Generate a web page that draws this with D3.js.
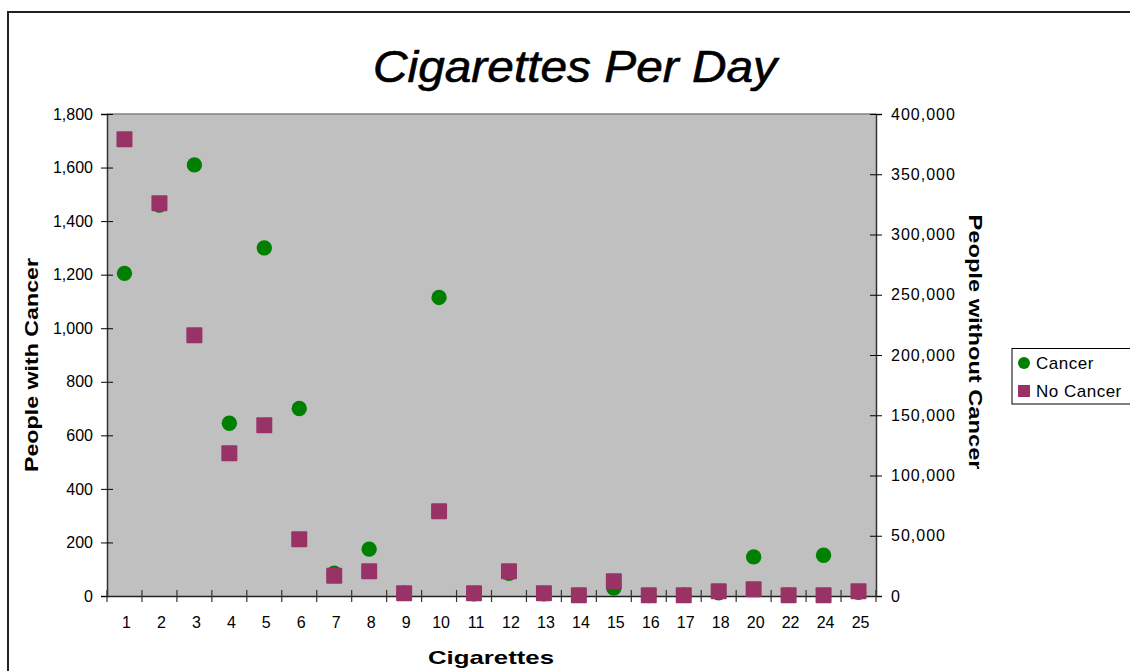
<!DOCTYPE html>
<html>
<head>
<meta charset="utf-8">
<script src="https://cdn.jsdelivr.net/npm/d3@7"></script>
<style>
  html, body { margin: 0; padding: 0; background: #fff; }
  svg { display: block; font-family: "Liberation Sans", Arial, sans-serif; }
</style>
</head>
<body>
<svg id="chart" width="1130" height="671"></svg>
<script>
// Cigarettes smoked per day (category labels along the x axis)
const categories = ["1","2","3","4","5","6","7","8","9","10","11","12","13","14","15","16","17","18","20","22","24","25"];
// People with cancer, left axis
const cancer = [1205, 1460, 1610, 645, 1300, 700, 85, 175, 10, 1115, 8, 85, 8, 3, 30, 2, 3, 12, 146, 3, 152, 14];
// People without cancer, right axis
const noCancer = [379000, 326000, 216300, 118400, 141700, 47000, 16900, 20500, 2200, 70300, 2200, 20500, 2200, 600, 12200, 600, 600, 3900, 5600, 600, 600, 3900];
// Axis ticks
const leftTicks = [0, 200, 400, 600, 800, 1000, 1200, 1400, 1600, 1800];
const rightTicks = [0, 50000, 100000, 150000, 200000, 250000, 300000, 350000, 400000];
const seriesNames = ["Cancer", "No Cancer"];

const svg = d3.select("#chart");
const plot = { left: 107, right: 876, top: 114, bottom: 596 };

// Outer chart frame
svg.append("rect")
  .attr("x", 8).attr("y", 12)
  .attr("width", 1140).attr("height", 680)
  .attr("fill", "#fff").attr("stroke", "#222").attr("stroke-width", 2);

const x = d3.scaleBand().domain(categories).range([plot.left, plot.right]).padding(0);
const yL = d3.scaleLinear().domain([0, 1800]).range([plot.bottom, plot.top]);
const yR = d3.scaleLinear().domain([0, 400000]).range([plot.bottom, plot.top]);

// Plot background
svg.append("rect")
  .attr("x", plot.left).attr("y", plot.top)
  .attr("width", plot.right - plot.left).attr("height", plot.bottom - plot.top)
  .attr("fill", "#c0c0c0");
svg.append("line")
  .attr("x1", plot.left).attr("x2", plot.right)
  .attr("y1", plot.top).attr("y2", plot.top)
  .attr("stroke", "#808080").attr("stroke-width", 1.5);

// Title
svg.append("text")
  .attr("x", 575).attr("y", 82)
  .attr("text-anchor", "middle")
  .attr("font-size", 44).attr("font-style", "italic")
  .attr("stroke", "#000").attr("stroke-width", 0.6)
  .attr("textLength", 404).attr("lengthAdjust", "spacingAndGlyphs")
  .text("Cigarettes Per Day");

const fmt = d3.format(",");

// Left axis
const gL = svg.append("g").attr("transform", `translate(${plot.left},0)`)
  .call(d3.axisLeft(yL).tickValues(leftTicks).tickFormat(fmt).tickSizeOuter(0).tickSize(6).tickPadding(8));
gL.select(".domain").attr("stroke", "#333").attr("stroke-width", 1.5);
gL.selectAll(".tick line").attr("x1", -6).attr("x2", 6).attr("stroke", "#000");
gL.selectAll(".tick text").attr("font-size", 16).attr("fill", "#000")
  .attr("font-family", "Liberation Sans, Arial, sans-serif");

// Right axis
const gR = svg.append("g").attr("transform", `translate(${plot.right},0)`)
  .call(d3.axisRight(yR).tickValues(rightTicks).tickFormat(fmt).tickSizeOuter(0).tickSize(6).tickPadding(9));
gR.select(".domain").attr("stroke", "#333").attr("stroke-width", 1.5);
gR.selectAll(".tick line").attr("x1", -6).attr("x2", 6).attr("stroke", "#000");
gR.selectAll(".tick text").attr("font-size", 16).attr("fill", "#000")
  .attr("letter-spacing", 1)
  .attr("font-family", "Liberation Sans, Arial, sans-serif");

// Bottom axis: labels centred in each band, ticks on band edges
const gB = svg.append("g").attr("transform", `translate(0,${plot.bottom})`)
  .call(d3.axisBottom(x).tickSize(0).tickPadding(21).tickSizeOuter(0));
gB.select(".domain").attr("stroke", "#222").attr("stroke-width", 1.5);
gB.selectAll(".tick text").attr("font-size", 16).attr("fill", "#000")
  .attr("transform", "translate(2,0)")
  .attr("font-family", "Liberation Sans, Arial, sans-serif");
const edges = categories.map(c => x(c)).concat([x(categories[categories.length - 1]) + x.bandwidth()]);
svg.append("g").selectAll("line").data(edges).join("line")
  .attr("x1", d => d).attr("x2", d => d)
  .attr("y1", plot.bottom - 6).attr("y2", plot.bottom + 6)
  .attr("stroke", "#333").attr("stroke-width", 1.2);

// Axis titles
svg.append("text")
  .attr("transform", `translate(38,365) rotate(-90)`)
  .attr("text-anchor", "middle").attr("font-size", 18).attr("font-weight", "bold")
  .attr("textLength", 214).attr("lengthAdjust", "spacingAndGlyphs")
  .text("People with Cancer");
svg.append("text")
  .attr("transform", `translate(969,342) rotate(90)`)
  .attr("text-anchor", "middle").attr("font-size", 18).attr("font-weight", "bold")
  .attr("textLength", 255).attr("lengthAdjust", "spacingAndGlyphs")
  .text("People without Cancer");
svg.append("text")
  .attr("x", 491).attr("y", 664)
  .attr("text-anchor", "middle").attr("font-size", 19).attr("font-weight", "bold")
  .attr("textLength", 126).attr("lengthAdjust", "spacingAndGlyphs")
  .text("Cigarettes");

// Markers
const cx = c => x(c) + x.bandwidth() / 2;
svg.append("g").selectAll("circle").data(categories).join("circle")
  .attr("cx", d => cx(d))
  .attr("cy", (d, i) => yL(cancer[i]))
  .attr("r", 7.7)
  .attr("fill", "#008000");
svg.append("g").selectAll("rect").data(categories).join("rect")
  .attr("x", d => cx(d) - 8)
  .attr("y", (d, i) => yR(noCancer[i]) - 8)
  .attr("width", 16).attr("height", 16)
  .attr("rx", 1)
  .attr("fill", "#993366");

// Legend
const lg = svg.append("g");
lg.append("rect")
  .attr("x", 1012).attr("y", 348.5).attr("width", 130).attr("height", 55.5)
  .attr("fill", "#fff").attr("stroke", "#000").attr("stroke-width", 1);
lg.append("circle").attr("cx", 1024).attr("cy", 363).attr("r", 6).attr("fill", "#008000");
lg.append("rect").attr("x", 1018).attr("y", 385).attr("width", 12).attr("height", 12).attr("fill", "#993366");
lg.selectAll("text").data(seriesNames).join("text")
  .attr("x", 1036).attr("y", (d, i) => 369 + i * 28)
  .attr("font-size", 17).attr("letter-spacing", 0.5)
  .text(d => d);
</script>
</body>
</html>
